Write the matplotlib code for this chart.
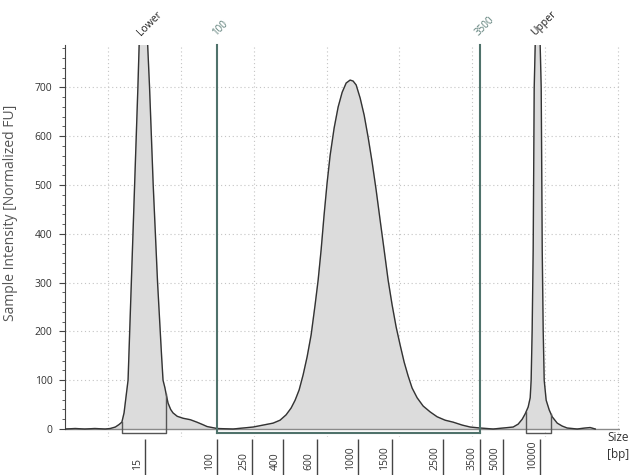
import numpy as np
import matplotlib
matplotlib.use("Agg")
import matplotlib.pyplot as plt

plt.rcParams['font.family'] = ['Open Sans', 'DejaVu Sans']

# trace (position units, normalized FU)
pos = [4.1, 5.5, 6.8, 8.2, 9.6, 10.3, 11.0, 11.5, 11.9, 12.2, 12.47, 12.75, 13.2, 13.65,
       14.1, 14.3, 14.85, 15.4, 15.7, 16.2, 16.8, 17.35, 17.55, 17.8, 17.97, 18.24, 18.6,
       18.92, 19.5, 20.3, 21.3, 22.2, 23.0, 23.6, 24.97, 27.17, 29.92, 32.66, 33.62, 34.45,
       35.14, 35.69, 36.24, 36.79, 37.34, 37.89, 38.43, 38.85, 39.26, 39.67, 40.08, 40.5,
       41.05, 41.6, 42.15, 42.7, 43.24, 43.65, 44.07, 44.62, 45.17, 45.71, 46.26, 46.81,
       47.36, 47.91, 48.46, 49.01, 49.56, 50.11, 50.66, 51.2, 51.75, 52.44, 53.27, 54.23,
       55.19, 56.29, 57.39, 58.63, 59.73, 61.1, 62.88, 65.63, 66.32, 66.87, 67.28, 67.69,
       67.97, 68.1, 68.24, 68.38, 68.52, 68.99, 69.48, 69.62, 69.75, 69.89, 70.16, 70.58,
       70.99, 71.68, 72.36, 73.05, 74.42, 75.5, 76.2, 76.9]
intensity = [0, 1, 0, 1, 0, 1, 4, 9, 14, 33, 66, 100, 300, 500,
             700, 800, 1150, 800, 700, 500, 300, 150, 100, 85, 72, 53, 40,
             33, 26, 22, 19, 14, 9, 5, 1, 0, 4, 12, 18, 29,
             43, 59, 80, 111, 148, 193, 254, 305, 367, 439, 504, 561,
             617, 660, 690, 709, 715, 713, 705, 678, 643, 598, 547, 490,
             428, 367, 305, 254, 209, 172, 137, 109, 84, 64, 47, 35,
             25, 18, 14, 8, 4, 2, 0, 4, 10, 20, 31, 45,
             64, 100, 203, 367, 699, 1000, 699, 367, 203, 100, 59, 39,
             25, 12, 6, 2, 0, 2, 3, 0]

# size ladder below the axis
ladder_pos = [15.08, 24.97, 29.78, 34.04, 38.71, 44.34, 49.01, 56.02, 61.1, 64.26, 69.35]
ladder_bp = ['15', '100', '250', '400', '600', '1000', '1500', '2500', '3500', '5000', '10000']

# markers and region boundaries
marker_pos = [14.85, 68.99]
marker_names = ['Lower', 'Upper']
region_pos = [24.97, 61.1]
region_bp = ['100', '3500']
lower_box = [11.92, 17.97]
upper_box = [67.41, 70.85]

line_c = '#333333'
teal = '#4f726b'

fig = plt.figure(figsize=(6.32, 4.75), dpi=100)
ax = fig.add_axes([65 / 632, 1 - 437 / 475, 555 / 632, 392 / 475])
ax.set_xlim(4.09, 80.3)
ax.set_ylim(-16.4, 786.9)

ax.fill_between(pos, intensity, 0, color='#dcdcdc', zorder=1)
ax.plot(pos, intensity, color=line_c, lw=1, zorder=3)
ax.axhline(0, color='#8a8a8a', lw=1, zorder=2)

# peak boxes
for x0, x1 in (lower_box, upper_box):
    y0 = np.interp(x0, pos, intensity)
    y1 = np.interp(x1, pos, intensity)
    ax.plot([x0, x0, x1, x1], [y0, -8, -8, y1], color='#555555', lw=1, zorder=4)

# region lines and bracket
for x in region_pos:
    ax.plot([x, x], [-8, 786.9], color=teal, lw=1.5, zorder=4, clip_on=False)
ax.plot(region_pos, [-8, -8], color=teal, lw=1.5, zorder=4)

for x, t in zip(region_pos, region_bp):
    ax.text(x + 0.1, 802, t, rotation=45, rotation_mode='anchor', ha='left', va='bottom',
            color='#5b7d77', fontsize=7, clip_on=False)
for x, t in zip(marker_pos, marker_names):
    ax.text(x - 0.1, 802, t, rotation=45, rotation_mode='anchor', ha='left', va='bottom',
            color='#222222', fontsize=7.5, clip_on=False)

# ladder ticks under the axis
ax.vlines(ladder_pos, -20.5, -100, color='#444444', lw=1, clip_on=False)
for x, t in zip(ladder_pos, ladder_bp):
    ax.text(x - 1.1, -84, t, rotation=90, ha='center', va='bottom', fontsize=7.5,
            color='#333333', clip_on=False)
ax.text(80.0, -18, 'Size', ha='center', va='center', fontsize=8.5, color='#333333', clip_on=False)
ax.text(80.0, -52, '[bp]', ha='center', va='center', fontsize=8.5, color='#333333', clip_on=False)

# grid
ax.set_yticks(range(0, 800, 100))
ax.set_yticks(range(0, 787, 20), minor=True)
ax.set_xticks(range(10, 81, 10))
for y in range(100, 800, 100):
    ax.axhline(y, color='#c4c4c4', lw=0.8, ls=(0, (1, 2.5)), zorder=0)
for x in range(10, 81, 10):
    ax.axvline(x, color='#c4c4c4', lw=0.8, ls=(0, (1, 2.5)), zorder=0)

ax.tick_params(axis='x', bottom=False, labelbottom=False)
ax.tick_params(axis='y', which='major', length=4, color='#444444', labelcolor='#333333',
               labelsize=7.5, pad=5)
ax.tick_params(axis='y', which='minor', length=2.5, color='#444444')
for s in ('top', 'right', 'bottom'):
    ax.spines[s].set_visible(False)
ax.spines['left'].set_bounds(0, 786.9)
ax.spines['left'].set_color('#444444')

ax.set_ylabel('Sample Intensity [Normalized FU]', fontsize=10, color='#555555')
ax.yaxis.set_label_coords(-0.084, 0.571)

fig.savefig('out.png', dpi=100)
